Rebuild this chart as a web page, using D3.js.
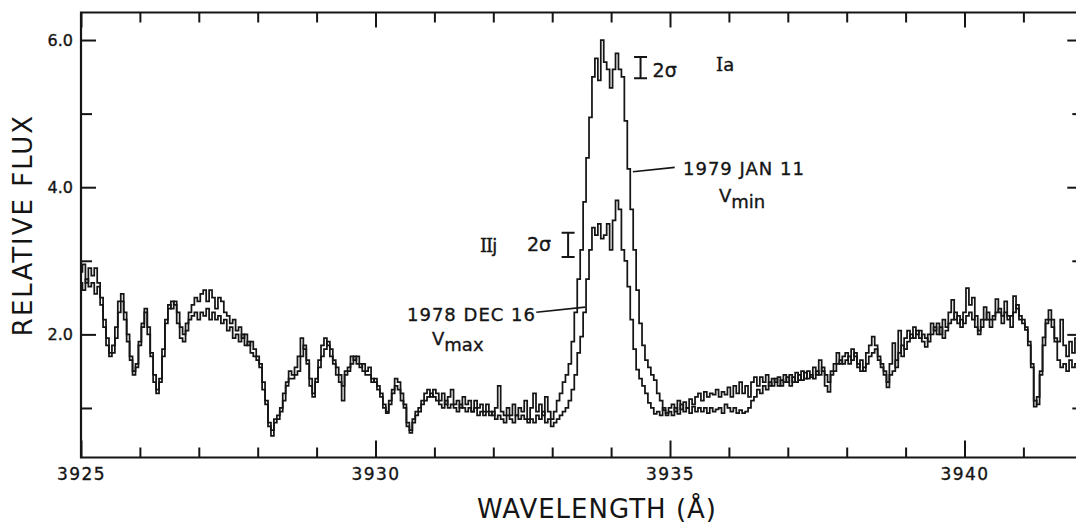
<!DOCTYPE html>
<html>
<head>
<meta charset="utf-8">
<script src="https://cdn.jsdelivr.net/npm/d3@7"></script>
<style>
  html, body { margin: 0; padding: 0; background: #fff; }
  svg { display: block; }
  text { font-family: "DejaVu Sans", sans-serif; fill: #151515; }
  .heavy text, text.heavy { stroke: #151515; stroke-width: 0.35px; }
</style>
</head>
<body>
<svg id="chart" width="1076" height="523"></svg>
<script>
// Ca II K line region, two epochs; flux sampled every 0.05 Å from 3925.00 Å
const lambdaStart = 3925.0;
const lambdaStep = 0.05;

// 1979 JAN 11 (V min)
const fluxJan11 = [
  2.85, 2.95, 2.7, 2.9, 2.8, 2.9, 2.7, 2.5, 2.2, 1.95,
  1.7, 1.75, 2.1, 2.45, 2.55, 2.3, 2.0, 1.7, 1.45, 1.55,
  1.85, 2.15, 2.35, 2.1, 1.7, 1.35, 1.2, 1.35, 1.7, 2.15,
  2.35, 2.45, 2.4, 2.15, 1.95, 1.9, 2.15, 2.3, 2.4, 2.5,
  2.45, 2.55, 2.6, 2.45, 2.6, 2.5, 2.35, 2.5, 2.45, 2.3,
  2.25, 2.15, 2.2, 2.05, 2.1, 1.95, 2.0, 1.85, 1.9, 1.8,
  1.7, 1.6, 1.35, 1.05, 0.75, 0.62, 0.8, 0.85, 0.95, 1.2,
  1.35, 1.5, 1.45, 1.55, 1.7, 1.95, 1.8, 1.6, 1.3, 1.15,
  1.4, 1.65, 1.85, 1.95, 1.85, 1.8, 1.6, 1.55, 1.45, 1.1,
  1.45, 1.55, 1.7, 1.65, 1.7, 1.55, 1.6, 1.5, 1.55, 1.4,
  1.35, 1.3, 1.15, 1.0, 0.93, 1.1, 1.25, 1.4, 1.35, 1.2,
  1.05, 0.8, 0.66, 0.8, 0.95, 1.0, 1.1, 1.2, 1.25, 1.15,
  1.25, 1.2, 1.1, 1.2, 1.05, 1.15, 1.25, 1.05, 1.1, 1.0,
  1.15, 1.05, 1.1, 0.95, 1.1, 1.0, 1.05, 0.95, 1.05, 0.95,
  0.9, 1.0, 1.3, 0.95, 0.9, 1.0, 0.9, 1.05, 0.9, 1.0,
  0.95, 1.1, 0.85, 1.0, 1.2, 0.95, 1.05, 0.9, 1.15, 0.95,
  0.85, 0.95, 1.1, 1.2, 1.35, 1.45, 1.6, 1.9, 2.3, 2.75,
  3.15, 3.8, 4.4, 4.95, 5.5, 5.75, 5.45, 6.0, 5.7, 5.6,
  5.35, 5.6, 5.82, 5.6, 5.5, 4.9, 4.25, 3.7, 3.15, 2.6,
  2.15, 1.85, 1.65, 1.55, 1.45, 1.38, 1.2, 1.1, 0.97, 0.93,
  1.0, 1.05, 0.95, 1.1, 0.98, 1.08, 1.0, 1.12, 1.05, 1.15,
  1.2, 1.1, 1.22, 1.15, 1.2, 1.18, 1.25, 1.15, 1.22, 1.18,
  1.28, 1.15, 1.3, 1.2, 1.35, 1.2, 1.3, 1.15, 1.35, 1.42,
  1.3, 1.42, 1.35, 1.45, 1.3, 1.4, 1.35, 1.42, 1.3, 1.45,
  1.35, 1.45, 1.35, 1.48, 1.38, 1.5, 1.4, 1.5, 1.42, 1.55,
  1.45, 1.65, 1.5, 1.3, 1.22, 1.45, 1.6, 1.75, 1.6, 1.7,
  1.75, 1.6, 1.8, 1.7, 1.55, 1.65, 1.5, 1.75, 1.85, 1.97,
  1.85, 1.65, 1.55, 1.45, 1.28, 1.6, 1.88, 1.55, 2.05, 1.7,
  1.95, 2.05, 1.95, 2.1, 2.0, 2.05, 1.9, 1.83, 2.0, 2.15,
  2.05, 2.15, 2.0, 2.2, 2.1, 2.3, 2.47, 2.2, 2.25, 2.1,
  2.3, 2.63, 2.4, 2.5, 2.1, 2.0, 2.2, 2.37, 2.2, 2.1,
  2.25, 2.48, 2.3, 2.15, 2.45, 2.25, 2.1, 2.52, 2.35, 2.25,
  2.2, 2.06, 1.85, 1.6, 1.02, 1.15, 1.5, 1.96, 2.2, 2.33,
  2.2, 1.95, 1.9, 2.2, 1.85, 1.7, 1.9, 1.75, 1.95, 1.85
];

// 1978 DEC 16 (V max)
const fluxDec16 = [
  2.7, 2.6, 2.75, 2.65, 2.7, 2.55, 2.65, 2.4, 2.1, 1.85,
  1.75, 1.85, 1.95, 2.3, 2.45, 2.2, 1.9, 1.65, 1.5, 1.6,
  1.9, 2.1, 2.3, 2.0, 1.75, 1.45, 1.25, 1.4, 1.8, 2.2,
  2.4, 2.35, 2.45, 2.3, 2.1, 2.0, 2.05, 2.2, 2.25, 2.3,
  2.2, 2.3, 2.25, 2.35, 2.2, 2.3, 2.2, 2.25, 2.15, 2.2,
  2.05, 2.1, 1.95, 2.0, 1.9, 2.0, 1.85, 1.9, 1.75, 1.7,
  1.65, 1.55, 1.25, 1.1, 0.8, 0.7, 0.85, 0.9, 1.0, 1.1,
  1.3, 1.4, 1.4, 1.45, 1.5, 1.7, 1.85, 1.65, 1.4, 1.2,
  1.35, 1.55, 1.7, 1.8, 1.9, 1.7, 1.65, 1.45, 1.35, 1.3,
  1.5, 1.5, 1.6, 1.7, 1.6, 1.6, 1.5, 1.45, 1.45, 1.35,
  1.4, 1.25, 1.2, 1.05, 0.95, 1.05, 1.2, 1.3, 1.25, 1.1,
  1.0, 0.75, 0.7, 0.85, 0.9, 0.95, 1.05, 1.1, 1.15, 1.2,
  1.15, 1.1, 1.05, 1.0, 1.1, 1.0, 1.05, 1.0, 0.95, 1.05,
  1.0, 0.95, 1.0, 0.95, 1.0, 0.9, 0.95, 0.9, 0.95, 0.9,
  0.95, 0.85, 0.9, 0.85, 0.8, 0.9, 0.85, 0.8, 0.9, 0.85,
  0.9, 0.85, 0.8, 0.85, 0.8, 0.9, 0.85, 0.95, 0.8, 0.85,
  0.75, 0.8, 0.85, 0.9, 0.95, 1.0, 1.1, 1.25, 1.45, 1.75,
  1.97, 2.3, 2.75, 3.15, 3.45, 3.35, 3.5, 3.3, 3.35, 3.5,
  3.15, 3.55, 3.82, 3.7, 3.15, 3.0, 2.65, 2.2, 1.8, 1.52,
  1.4, 1.3, 1.2, 1.07, 1.0, 0.92, 0.95, 0.9, 1.0, 0.9,
  0.95, 0.9, 1.0, 0.92, 1.05, 0.95, 1.0, 0.93, 1.02, 0.95,
  1.0, 0.95, 1.0, 0.93, 1.0, 0.95, 0.98, 1.0, 0.93, 1.05,
  1.0, 0.95, 1.0, 0.93, 0.97, 0.93, 0.95, 1.0, 1.1, 1.15,
  1.25, 1.2, 1.3, 1.25, 1.35, 1.3, 1.4, 1.3, 1.38, 1.35,
  1.42, 1.3, 1.42, 1.35, 1.45, 1.38, 1.48, 1.4, 1.45, 1.4,
  1.5, 1.45, 1.55, 1.45, 1.35, 1.5, 1.5, 1.6, 1.65, 1.6,
  1.65, 1.7, 1.65, 1.75, 1.6, 1.5, 1.55, 1.6, 1.7, 1.75,
  1.8, 1.7, 1.6, 1.5, 1.35, 1.45, 1.5, 1.65, 1.75, 1.85,
  1.8, 1.9, 2.0, 1.95, 2.05, 1.95, 2.0, 1.95, 1.9, 2.0,
  2.1, 2.0, 2.1, 1.95, 2.05, 2.15, 2.2, 2.3, 2.15, 2.2,
  2.15, 2.25, 2.3, 2.2, 2.25, 2.05, 2.1, 2.2, 2.3, 2.2,
  2.2, 2.3, 2.35, 2.25, 2.3, 2.2, 2.25, 2.3, 2.4, 2.2,
  2.15, 2.1, 1.9, 1.55, 1.1, 1.05, 1.45, 1.85, 2.15, 2.2,
  2.1, 1.9, 1.65, 1.55, 1.6, 1.5, 1.65, 1.55, 1.6, 1.7
];

// Axis ticks
const xLabelTicks = [3925, 3930, 3935, 3940];
const xMinorTicks = d3.range(3925, 3943, 1).filter(v => v % 5 !== 0);
const yLabelTicks = [2, 4, 6];
const yMinorTicks = [1, 3, 5];

// 2-sigma error bars (wavelength, low flux, high flux)
const errorBars = [
  { lambda: 3934.50, lo: 5.48, hi: 5.77 },
  { lambda: 3933.27, lo: 3.05, hi: 3.38 }
];

const svg = d3.select("#chart");
const plotLeft = 81, plotTop = 12.5, plotBottom = 457.5;
const x = d3.scaleLinear().domain([3925, 3942]).range([plotLeft, plotLeft + 17 * 58.9]);
const y = d3.scaleLinear().domain([0.327, 6.374]).range([plotBottom, plotTop]);
const plotRight = x(3942);

const ink = "#151515";

svg.append("defs").append("clipPath").attr("id", "plot")
  .append("rect").attr("x", plotLeft).attr("y", plotTop)
  .attr("width", plotRight - plotLeft).attr("height", plotBottom - plotTop);

// Spectra as stepped histograms
const wavelengths = fluxJan11.map((_, i) => lambdaStart + i * lambdaStep);
const line = d3.line().x(d => x(d[0])).y(d => y(d[1])).curve(d3.curveStep);
[fluxDec16, fluxJan11].forEach(series => {
  svg.append("path")
    .datum(series.map((v, i) => [wavelengths[i], v]))
    .attr("clip-path", "url(#plot)")
    .attr("fill", "none")
    .attr("stroke", ink)
    .attr("stroke-width", 1.75)
    .attr("stroke-linejoin", "miter")
    .attr("d", line);
});

// Frame and ticks
function styleAxis(g) {
  g.select(".domain").remove();
  g.selectAll(".tick line").attr("stroke", ink).attr("stroke-width", 2);
  g.selectAll("text").attr("fill", ink);
}

svg.append("g").attr("class", "heavy").attr("transform", `translate(0,${plotBottom})`)
  .call(d3.axisBottom(x).tickValues(xLabelTicks).tickSize(-17).tickPadding(10).tickFormat(d3.format("d")))
  .call(styleAxis)
  .selectAll("text").style("font-size", "17px").style("letter-spacing", "1.5px");
svg.append("g").attr("transform", `translate(0,${plotBottom})`)
  .call(d3.axisBottom(x).tickValues(xMinorTicks).tickSize(-10).tickFormat(""))
  .call(styleAxis);
svg.append("g").attr("transform", `translate(0,${plotTop})`)
  .call(d3.axisTop(x).tickValues(xLabelTicks).tickSize(-15).tickFormat(""))
  .call(styleAxis);
svg.append("g").attr("transform", `translate(0,${plotTop})`)
  .call(d3.axisTop(x).tickValues(xMinorTicks).tickSize(-10).tickFormat(""))
  .call(styleAxis);

svg.append("g").attr("class", "heavy").attr("transform", `translate(${plotLeft},0)`)
  .call(d3.axisLeft(y).tickValues(yLabelTicks).tickSize(-15).tickPadding(8).tickFormat(d3.format(".1f")))
  .call(styleAxis)
  .selectAll("text").style("font-size", "16px");
svg.append("g").attr("transform", `translate(${plotLeft},0)`)
  .call(d3.axisLeft(y).tickValues(yMinorTicks).tickSize(-11).tickFormat(""))
  .call(styleAxis);
svg.append("g").attr("transform", `translate(${plotRight},0)`)
  .call(d3.axisRight(y).tickValues(yLabelTicks).tickSize(-15).tickFormat(""))
  .call(styleAxis);
svg.append("g").attr("transform", `translate(${plotRight},0)`)
  .call(d3.axisRight(y).tickValues(yMinorTicks).tickSize(-10).tickFormat(""))
  .call(styleAxis);

svg.append("path")
  .attr("d", `M${plotRight},${plotTop}H${plotLeft}V${plotBottom}H${plotRight}V${plotTop}`)
  .attr("fill", "none").attr("stroke", ink).attr("stroke-width", 2.2);

// Axis titles
svg.append("text")
  .attr("x", 597).attr("y", 518)
  .attr("text-anchor", "middle")
  .style("font-size", "26px").style("letter-spacing", "1px")
  .text("WAVELENGTH (Å)");
svg.append("text")
  .attr("transform", "translate(32,225) rotate(-90)")
  .attr("text-anchor", "middle")
  .style("font-size", "26px").style("letter-spacing", "2px")
  .text("RELATIVE FLUX");

// Error bars
errorBars.forEach(b => {
  const cx = x(b.lambda), y0 = y(b.lo), y1 = y(b.hi);
  svg.append("path")
    .attr("d", `M${cx - 6.5},${y1}H${cx + 6.5}M${cx},${y1}V${y0}M${cx - 6.5},${y0}H${cx + 6.5}`)
    .attr("fill", "none").attr("stroke", ink).attr("stroke-width", 2);
});

// Annotations
const ann = svg.append("g").attr("class", "heavy").style("font-size", "18px");

ann.append("text").attr("x", x(3934.50) + 12).attr("y", y(5.5)).style("font-size", "19px").text("2σ");
const ia = ann.append("text").attr("x", 716).attr("y", 71);
ia.append("tspan").style("font-family", "'DejaVu Serif', serif").text("I");
ia.append("tspan").text("a");

const iij = ann.append("text").attr("x", 480).attr("y", 252);
iij.append("tspan").style("font-family", "'DejaVu Serif', serif").style("letter-spacing", "-1px").text("II");
iij.append("tspan").text("j");
ann.append("text").attr("x", 527).attr("y", 251).style("font-size", "19px").text("2σ");

// 1979 JAN 11 label
svg.append("line")
  .attr("x1", x(3934.37)).attr("y1", y(4.21))
  .attr("x2", x(3935.08)).attr("y2", y(4.27))
  .attr("stroke", ink).attr("stroke-width", 1.6);
ann.append("text").attr("x", 683).attr("y", 175).style("letter-spacing", "1px").text("1979 JAN 11");
const vmin = ann.append("text").attr("x", 719).attr("y", 202);
vmin.append("tspan").text("V");
vmin.append("tspan").attr("dy", 6).text("min");

// 1978 DEC 16 label
svg.append("line")
  .attr("x1", x(3933.56)).attr("y1", y(2.37))
  .attr("x2", x(3932.73)).attr("y2", y(2.30))
  .attr("stroke", ink).attr("stroke-width", 1.6);
ann.append("text").attr("x", 407).attr("y", 321).style("letter-spacing", "1px").text("1978 DEC 16");
const vmax = ann.append("text").attr("x", 432).attr("y", 345);
vmax.append("tspan").text("V");
vmax.append("tspan").attr("dy", 6).text("max");
</script>
</body>
</html>
